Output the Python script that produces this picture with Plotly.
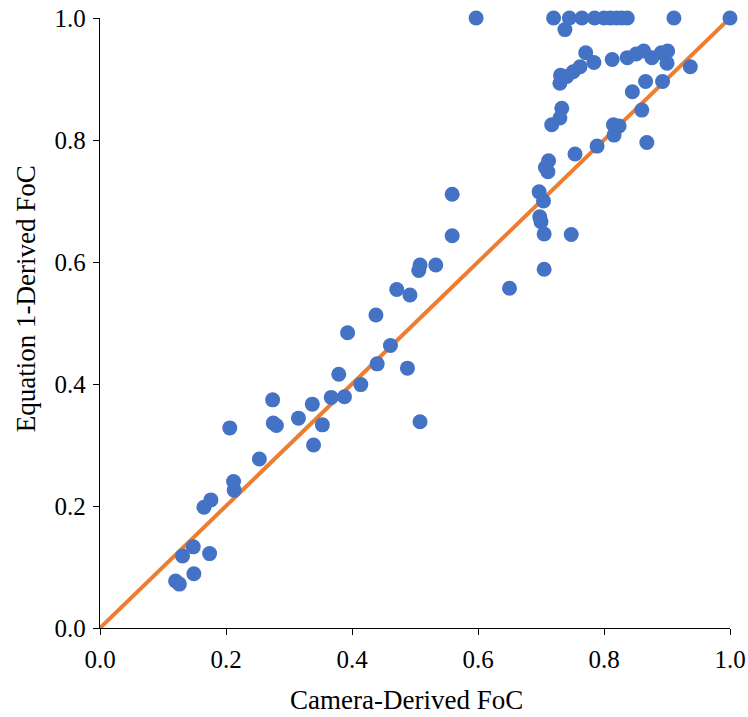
import plotly.graph_objects as go

camera_foc = [
    0.120, 0.126, 0.131, 0.148, 0.149, 0.174, 0.165, 0.176, 0.206, 0.212,
    0.213, 0.253, 0.274, 0.275, 0.280, 0.315, 0.337, 0.339, 0.353, 0.367,
    0.388, 0.379, 0.414, 0.393, 0.438, 0.440, 0.461, 0.488, 0.508, 0.471,
    0.492, 0.508, 0.506, 0.533, 0.559, 0.559, 0.597, 0.650, 0.705, 0.705,
    0.748, 0.698, 0.700, 0.697, 0.704, 0.707, 0.712, 0.711, 0.754, 0.789,
    0.717, 0.730, 0.733, 0.730, 0.731, 0.741, 0.751, 0.762, 0.771, 0.784,
    0.813, 0.837, 0.851, 0.863, 0.876, 0.891, 0.901, 0.900, 0.937, 0.866,
    0.893, 0.845, 0.860, 0.815, 0.824, 0.816, 0.868, 0.738,
    0.720, 0.745, 0.765, 0.785, 0.800, 0.810, 0.820, 0.828, 0.837, 0.911, 1.000,
]
equation_foc = [
    0.077, 0.072, 0.118, 0.133, 0.089, 0.122, 0.198, 0.210, 0.328, 0.240,
    0.226, 0.277, 0.374, 0.336, 0.332, 0.344, 0.367, 0.300, 0.333, 0.378,
    0.379, 0.416, 0.399, 0.484, 0.513, 0.433, 0.463, 0.426, 0.338, 0.555,
    0.546, 0.595, 0.586, 0.595, 0.711, 0.643, 1.000, 0.557, 0.588, 0.646,
    0.645, 0.674, 0.666, 0.715, 0.700, 0.755, 0.766, 0.748, 0.777, 0.790,
    0.825, 0.836, 0.852, 0.893, 0.906, 0.904, 0.912, 0.920, 0.943, 0.927,
    0.932, 0.935, 0.941, 0.946, 0.935, 0.943, 0.946, 0.926, 0.920, 0.896,
    0.896, 0.879, 0.849, 0.825, 0.823, 0.808, 0.796, 0.981,
    1.000, 1.000, 1.000, 1.000, 1.000, 1.000, 1.000, 1.000, 1.000, 1.000, 1.000,
]
line_x = [0.0, 1.0]
line_y = [0.0, 1.0]
tick_vals = [0.0, 0.2, 0.4, 0.6, 0.8, 1.0]
tick_text = ["0.0", "0.2", "0.4", "0.6", "0.8", "1.0"]
x_title = "Camera-Derived FoC"
y_title = "Equation 1-Derived FoC"

font_family = "Liberation Serif, Times New Roman, serif"

fig = go.Figure()
fig.add_trace(go.Scatter(
    x=line_x, y=line_y, mode="lines",
    line=dict(color="#ED7D31", width=4),
    cliponaxis=False, showlegend=False, hoverinfo="skip",
))
fig.add_trace(go.Scatter(
    x=camera_foc, y=equation_foc, mode="markers",
    marker=dict(color="#4472C4", size=15, line=dict(width=0)),
    cliponaxis=False, showlegend=False,
))

axis_common = dict(
    range=[0, 1], tickvals=tick_vals, ticktext=tick_text,
    showgrid=False, zeroline=False, showline=True,
    linecolor="black", linewidth=1.3,
    ticks="outside", ticklen=6, tickcolor="black", tickwidth=1.3,
    tickfont=dict(family=font_family, size=25, color="black"),
    automargin=False,
)

title_font = dict(family=font_family, size=27, color="black")

fig.update_layout(
    width=748, height=717,
    margin=dict(l=100, r=18, t=18, b=89),
    plot_bgcolor="white", paper_bgcolor="white",
    xaxis=dict(**axis_common, ticklabelstandoff=3),
    yaxis=dict(**axis_common, ticklabelstandoff=2),
    annotations=[
        dict(text=x_title, xref="paper", yref="paper",
             x=0.487, y=-0.118, xanchor="center", yanchor="middle",
             showarrow=False, font=title_font),
        dict(text=y_title, xref="paper", yref="paper",
             x=-0.118, y=0.540, xanchor="center", yanchor="middle",
             textangle=-90, showarrow=False, font=title_font),
    ],
)

fig.write_html("out.html")
